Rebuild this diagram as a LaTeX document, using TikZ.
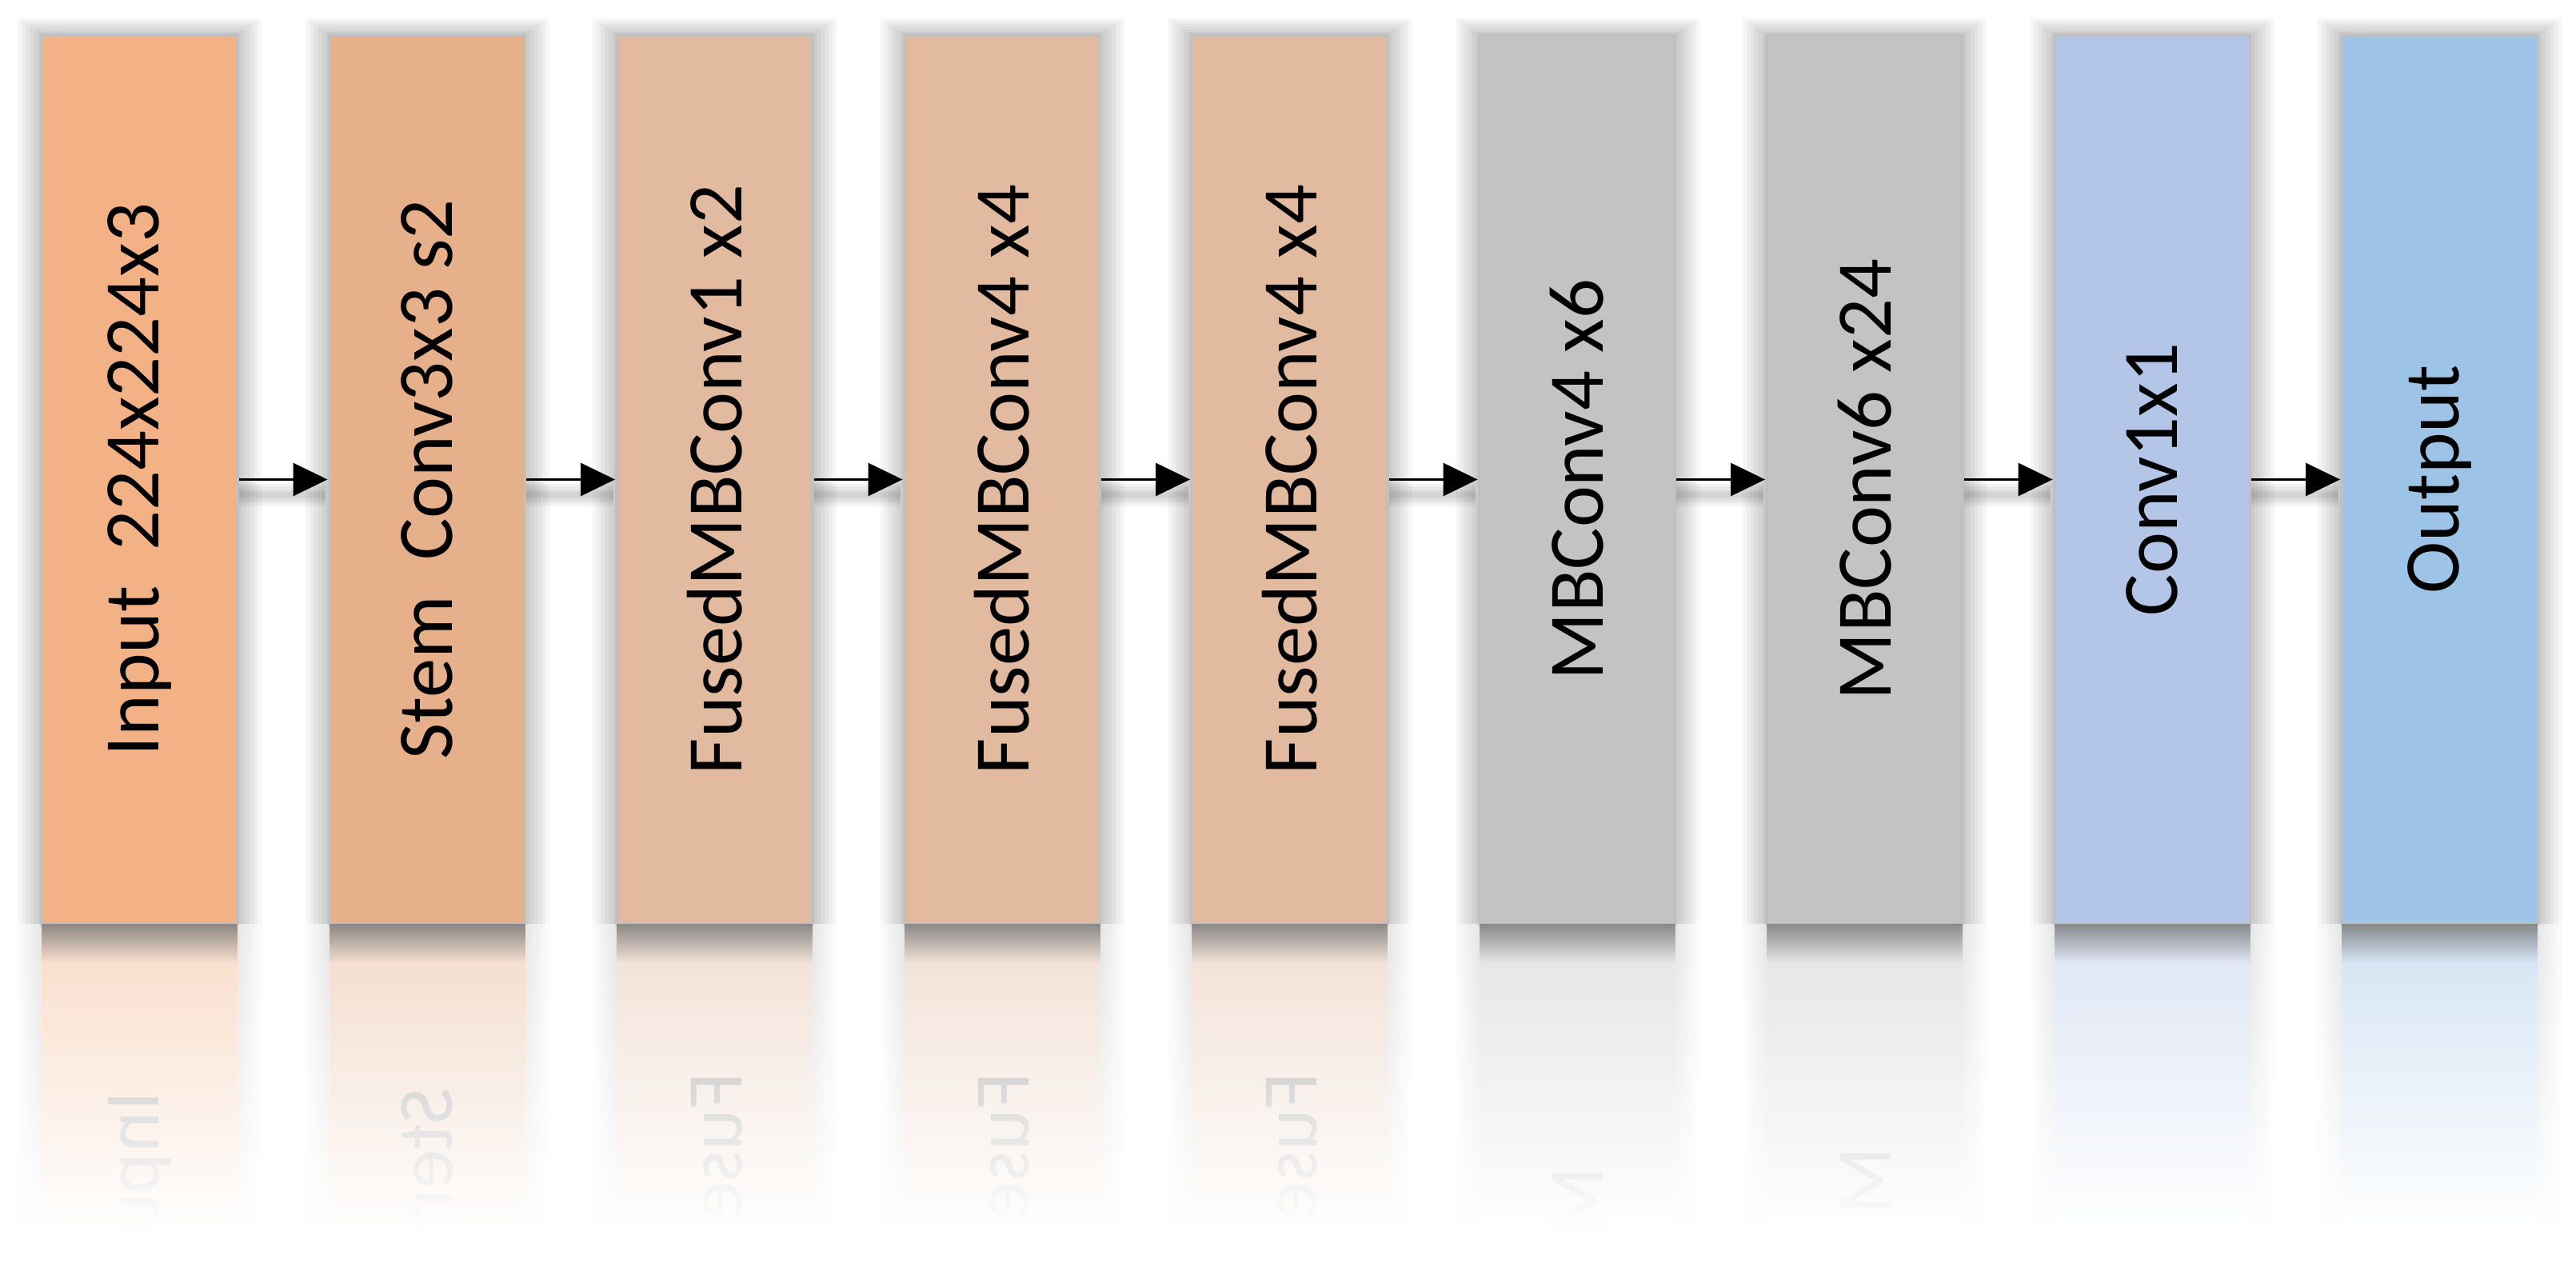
\documentclass[tikz,border=0pt]{standalone}
\usepackage{fontspec}
\setmainfont{Carlito}
\usetikzlibrary{arrows.meta,fadings,calc}
\tikzfading[name=reflfade, top color=transparent!45, bottom color=transparent!0]
\tikzfading[name=bandfade, top color=transparent!20, bottom color=transparent!100]
\definecolor{cA}{RGB}{243,178,134}
\definecolor{cB}{RGB}{230,176,139}
\definecolor{cC}{RGB}{226,186,160}
\definecolor{cG}{RGB}{195,195,195}
\definecolor{cH}{RGB}{180,198,231}
\definecolor{cI}{RGB}{157,195,230}
\definecolor{edgegray}{RGB}{192,192,192}
\tikzset{
  blk/.style={draw=edgegray, line width=1.1pt, minimum width=2.45cm, minimum height=11.11cm, inner sep=0pt},
  lbl/.style={font=\fontsize{28}{34}\selectfont, text=black, rotate=90, inner sep=0pt},
  conn/.style={-{Triangle[length=0.43cm,width=0.41cm]}, line width=0.85pt, black},
  halo/.style={fill=black, opacity=0.035},
}
\begin{document}
\begin{tikzpicture}
\useasboundingbox (0,0) rectangle (32.21,15.99);
\fill[white] (0,0) rectangle (32.21,15.99);
% boxes, halos and labels
\foreach \i/\col/\txt in {
  1/cA/{Input\hspace{0.45em}224x224x3},
  2/cB/{Stem\hspace{0.45em}Conv3x3 s2},
  3/cC/{FusedMBConv1 x2},
  4/cC/{FusedMBConv4 x4},
  5/cC/{FusedMBConv4 x4},
  6/cG/{MBConv4 x6},
  7/cG/{MBConv6 x24},
  8/cH/{Conv1x1},
  9/cI/{Output}}{
  \pgfmathsetmacro\L{0.52+3.595*(\i-1)}
  \pgfmathsetmacro\R{\L+2.45}
  \pgfmathsetmacro\C{\L+1.225}
  \foreach \k in {1,...,6}{
    \fill[halo] (\L-\k*0.05, 4.44) rectangle (\R+\k*0.05, 15.55+\k*0.035);
  }
  \ifnum\i<9
    \foreach \k in {1,...,4}{
      \draw[black, opacity=0.045, line width=\k*0.07cm] (\R, 9.80) -- (\R+1.1, 9.80);
    }
  \fi
  \node[blk, fill=\col] (b\i) at (\C, 9.995) {};
  \node[lbl] (t\i) at (b\i.center) {\txt};
}
% reflections below the boxes
\foreach \i/\col/\pre in {
  1/cA/Input, 2/cB/Stem, 3/cC/Fuse, 4/cC/Fuse, 5/cC/Fuse,
  6/cG/M, 7/cG/M, 8/cH/{}, 9/cI/{}}{
  \pgfmathsetmacro\L{0.52+3.595*(\i-1)}
  \pgfmathsetmacro\R{\L+2.45}
  \begin{scope}
    \clip (\L-0.4, 4.44) rectangle (\R+0.4, 0.5);
    \foreach \k in {1,...,6}{
      \fill[halo] (\L-\k*0.05, 4.44) rectangle (\R+\k*0.05, 0.5);
    }
    \fill[\col] (\L,4.44) rectangle (\R,0.5);
  \end{scope}
  \path let \p1 = (t\i.base west) in
    node[lbl, xscale=-1, anchor=base west, text=black!70] (r\i) at (\x1, {8.88cm-\y1}) {\pre};
  \fill[white, path fading=reflfade] (\L-0.4,4.44) rectangle (\R+0.4,0.62);
  \fill[white] (\L-0.4,0.62) rectangle (\R+0.4,0.0);
  \fill[black!55, path fading=bandfade] (\L,4.44) rectangle (\R,3.95);
}
% connectors
\foreach \i [evaluate=\i as \j using int(\i+1)] in {1,...,8}{
  \draw[conn] (b\i.east) -- (b\j.west);
}
\end{tikzpicture}
\end{document}
